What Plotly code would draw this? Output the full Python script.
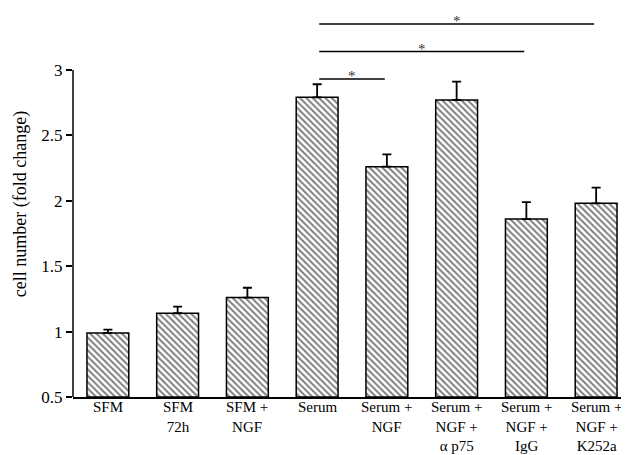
import plotly.graph_objects as go

categories = ["SFM", "SFM<br>72h", "SFM +<br>NGF", "Serum", "Serum +<br>NGF",
              "Serum +<br>NGF +<br>α p75", "Serum +<br>NGF +<br>IgG", "Serum +<br>NGF +<br>K252a"]
values = [0.99, 1.14, 1.26, 2.79, 2.26, 2.77, 1.86, 1.98]
errors = [0.025, 0.05, 0.075, 0.10, 0.095, 0.14, 0.13, 0.12]
y_ticks = [0.5, 1, 1.5, 2, 2.5, 3]
y_ticktext = ["0.5", "1", "1.5", "2", "2.5", "3"]
# significance brackets: (from category index, to category index, height)
sig_from = [3, 3, 3]
sig_to = [4, 6, 7]
sig_y = [2.93, 3.14, 3.35]
sig_label = ["*", "*", "*"]

x_idx = list(range(len(categories)))

fig = go.Figure()
fig.add_trace(go.Bar(
    x=x_idx, y=[v - 0.5 for v in values], base=0.5,
    width=0.6,
    marker=dict(color="white",
                line=dict(color="black", width=1.5),
                pattern=dict(shape="\\", size=4.5, solidity=0.45,
                             fgcolor="black", bgcolor="white")),
    error_y=dict(type="data", array=errors, arrayminus=[0]*len(errors),
                 symmetric=False, color="black", thickness=1.8, width=4.5),
    showlegend=False,
))

font_family = "Liberation Serif, Times New Roman, serif"

shapes = []
# y axis line from 0.5 to 3 only
shapes.append(dict(type="line", xref="paper", yref="y", x0=0, x1=0, y0=0.5, y1=3,
                   line=dict(color="black", width=1.5)))
annotations = []
for f, t, yv, lab in zip(sig_from, sig_to, sig_y, sig_label):
    shapes.append(dict(type="line", xref="x", yref="y", x0=f + 0.03, x1=t - 0.03,
                       y0=yv, y1=yv, line=dict(color="black", width=1.5)))
    annotations.append(dict(x=(f + t) / 2, y=yv, xref="x", yref="y", text=lab,
                            showarrow=False, yanchor="middle", yshift=3, borderpad=0,
                            font=dict(size=15, color="#333333", family=font_family)))
# category labels just below the x axis
for i, cat in zip(x_idx, categories):
    annotations.append(dict(x=i, y=0, xref="x", yref="paper", text=cat,
                            showarrow=False, yanchor="top", yshift=-1,
                            align="center", borderpad=0,
                            font=dict(size=15, color="black", family=font_family)))

fig.update_layout(
    width=629, height=455,
    margin=dict(l=65, r=6, t=3, b=66, autoexpand=False),
    plot_bgcolor="white", paper_bgcolor="white",
    font=dict(family=font_family, size=16, color="black"),
    bargap=0.4,
    shapes=shapes,
    annotations=annotations,
    xaxis=dict(range=[-0.5, 7.5], tickvals=x_idx, showticklabels=False,
               showline=True, linecolor="black", linewidth=1.5,
               ticks="", showgrid=False, zeroline=False, automargin=False),
    yaxis=dict(range=[0.5, 3.45], tickvals=y_ticks, ticktext=y_ticktext,
               showline=False, ticks="outside", ticklen=6, tickwidth=1.5,
               tickcolor="black", showgrid=False, zeroline=False, automargin=False,
               tickfont=dict(size=17, family=font_family),
               title=dict(text="cell number (fold change)", standoff=10,
                          font=dict(size=18, family=font_family))),
)

fig.write_html("out.html")
